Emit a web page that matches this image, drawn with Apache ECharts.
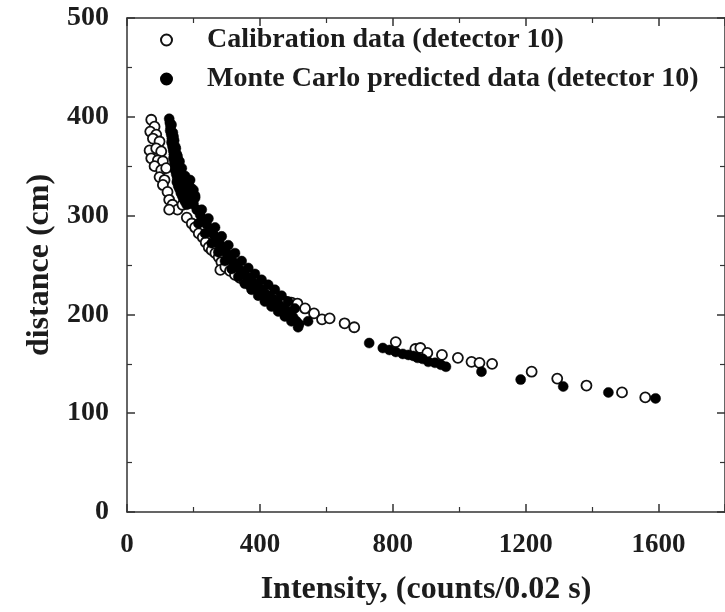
<!DOCTYPE html>
<html>
<head>
<meta charset="utf-8">
<script src="https://cdn.jsdelivr.net/npm/echarts@6/dist/echarts.min.js"></script>
<style>
  html, body { margin: 0; padding: 0; background: #fff; }
  #chart { width: 725px; height: 612px; }
</style>
</head>
<body>
<div id="chart"></div>
<script>
// calibration data (open circles)
let calX = [73, 83, 70, 88, 78, 98, 68, 88, 103, 73, 93, 108, 83, 103, 118, 98, 113, 108, 122, 127, 137, 152, 127, 167,
  180, 195, 205, 216, 228, 237, 246, 255, 266, 276, 284, 281, 296, 310, 325, 340, 355, 370, 385, 400, 420, 440, 460, 478, 495,
  513, 536, 563, 587, 610, 655, 684, 809, 868, 883, 904, 948, 996, 1037, 1061, 1099, 1218, 1295, 1383, 1490, 1560];
let calY = [397, 390, 385, 382, 378, 375, 366, 368, 365, 358, 356, 355, 350, 346, 348, 339, 336, 331, 324, 316, 311, 306, 306, 311,
  298, 292, 288, 282, 278, 273, 268, 265, 262, 258, 253, 245, 248, 244, 240, 237, 233, 230, 228, 225, 222, 219, 216, 213, 212,
  211, 206, 201, 195, 196, 191, 187, 172, 165, 166, 161, 159, 156, 152, 151, 150, 142, 135, 128, 121, 116];

// monte carlo predicted (filled circles)
let mcX = [
  // steep part
  127, 129, 131, 130, 133, 135, 134, 137, 139, 141, 140, 143, 146, 145, 148, 151, 150, 154, 158, 162, 166, 170, 175, 180,
  134, 138, 142, 147, 152, 156, 160, 165, 170, 176, 182, 188, 194,
  140, 145, 150, 156, 161, 167, 173, 180,
  158, 165, 175, 185, 190, 193, 200, 205,
  // main band
  200, 210, 220, 230, 240, 250, 260, 270, 280, 290, 300, 310, 320, 330, 340, 350, 360, 370, 380, 390, 400, 410, 420, 430,
  440, 450, 460, 470, 480, 490, 500, 510, 518,
  205, 225, 245, 265, 285, 305, 325, 345, 365, 385, 405, 425, 445, 465, 485, 505,
  215, 235, 255, 275, 295, 315, 335, 355, 375, 395, 415, 435, 455, 475, 495, 515,
  545,
  // sparse tail
  729, 770, 790, 809, 830, 847, 862, 875, 890, 907, 927, 945, 960, 1067, 1185, 1313, 1449, 1591];
let mcY = [
  398, 394, 390, 386, 382, 378, 374, 370, 366, 362, 358, 354, 350, 346, 342, 338, 334, 330, 327, 323, 320, 317, 314, 311,
  392, 384, 376, 368, 360, 352, 345, 338, 332, 326, 321, 316, 312,
  380, 370, 362, 354, 346, 339, 332, 325,
  355, 348, 340, 332, 336, 328, 326, 320,
  312, 306, 301, 296, 291, 286, 281, 276, 271, 266, 262, 258, 253, 249, 245, 242, 238, 235, 232, 229, 226, 223, 220, 218,
  215, 212, 209, 206, 203, 200, 197, 193, 190,
  318, 306, 297, 288, 279, 270, 262, 254, 247, 241, 235, 230, 225, 219, 213, 206,
  292, 282, 272, 263, 254, 246, 238, 231, 225, 219, 213, 208, 203, 198, 193, 187,
  193,
  171, 166, 164, 162, 160, 159, 158, 156, 155, 152, 151, 149, 147, 142, 134, 127, 121, 115];

let xTicks = [0, 1800, 400];
let yTicks = [0, 500, 100];
let legendNames = ['Calibration data (detector 10)', 'Monte Carlo predicted data (detector 10)'];

let font = '"Liberation Serif", "Times New Roman", serif';
let ink = '#1c1c1c';

function pairs(xs, ys) {
  return xs.map((x, i) => [x, ys[i]]);
}

let axisLine = { show: true, onZero: false, lineStyle: { color: '#333', width: 1.5 } };
let tick = { show: true, inside: true, length: 8, lineStyle: { color: '#333', width: 1.5 } };
let minor = { show: true, splitNumber: 2, length: 5, lineStyle: { color: '#333', width: 1.2 } };

let myChart = echarts.init(document.getElementById('chart'), null, { renderer: 'canvas' });

let option = {
  backgroundColor: '#fff',
  animation: false,
  textStyle: { fontFamily: font, fontWeight: 'bold', color: ink },
  grid: { left: 127, right: -10, top: 18, bottom: 100 },
  legend: {
    orient: 'vertical',
    left: 155,
    top: 21,
    itemGap: 11,
    itemWidth: 11,
    itemHeight: 11,
    selectedMode: false,
    data: legendNames,
    textStyle: { fontFamily: font, fontWeight: 'bold', fontSize: 28, color: ink, padding: [0, 0, 0, 30] },
  },
  xAxis: [
    {
      type: 'value', min: xTicks[0], max: xTicks[1], interval: xTicks[2], position: 'bottom',
      axisLine, axisTick: tick, minorTick: minor, splitLine: { show: false },
      axisLabel: {
        fontFamily: font, fontWeight: 'bold', fontSize: 27, color: ink, margin: 20, showMaxLabel: false,
        formatter: (v) => String(v),
      },
      name: 'Intensity, (counts/0.02 s)', nameLocation: 'middle', nameGap: 62,
      nameTextStyle: { fontFamily: font, fontWeight: 'bold', fontSize: 32, color: ink },
    },
    {
      type: 'value', min: xTicks[0], max: xTicks[1], interval: xTicks[2], position: 'top',
      axisLine, axisTick: tick, minorTick: minor, splitLine: { show: false }, axisLabel: { show: false },
    },
  ],
  yAxis: [
    {
      type: 'value', min: yTicks[0], max: yTicks[1], interval: yTicks[2], position: 'left',
      axisLine, axisTick: tick, minorTick: minor, splitLine: { show: false },
      axisLabel: { fontFamily: font, fontWeight: 'bold', fontSize: 28, color: ink, margin: 18, formatter: (v) => String(v) },
      name: 'distance (cm)', nameLocation: 'middle', nameGap: 58,
      nameTextStyle: { fontFamily: font, fontWeight: 'bold', fontSize: 32, color: ink },
    },
    {
      type: 'value', min: yTicks[0], max: yTicks[1], interval: yTicks[2], position: 'right',
      axisLine, axisTick: tick, minorTick: minor, splitLine: { show: false }, axisLabel: { show: false },
    },
  ],
  series: [
    {
      name: legendNames[0],
      type: 'scatter',
      symbol: 'circle',
      symbolSize: 10,
      itemStyle: { color: '#fff', borderColor: '#111', borderWidth: 1.8, opacity: 1 },
      data: pairs(calX, calY),
    },
    {
      name: legendNames[1],
      type: 'scatter',
      symbol: 'circle',
      symbolSize: 10,
      itemStyle: { color: '#000', borderColor: '#000', borderWidth: 0.5, opacity: 1 },
      data: pairs(mcX, mcY),
    },
  ],
};

myChart.setOption(option);
</script>
</body>
</html>
